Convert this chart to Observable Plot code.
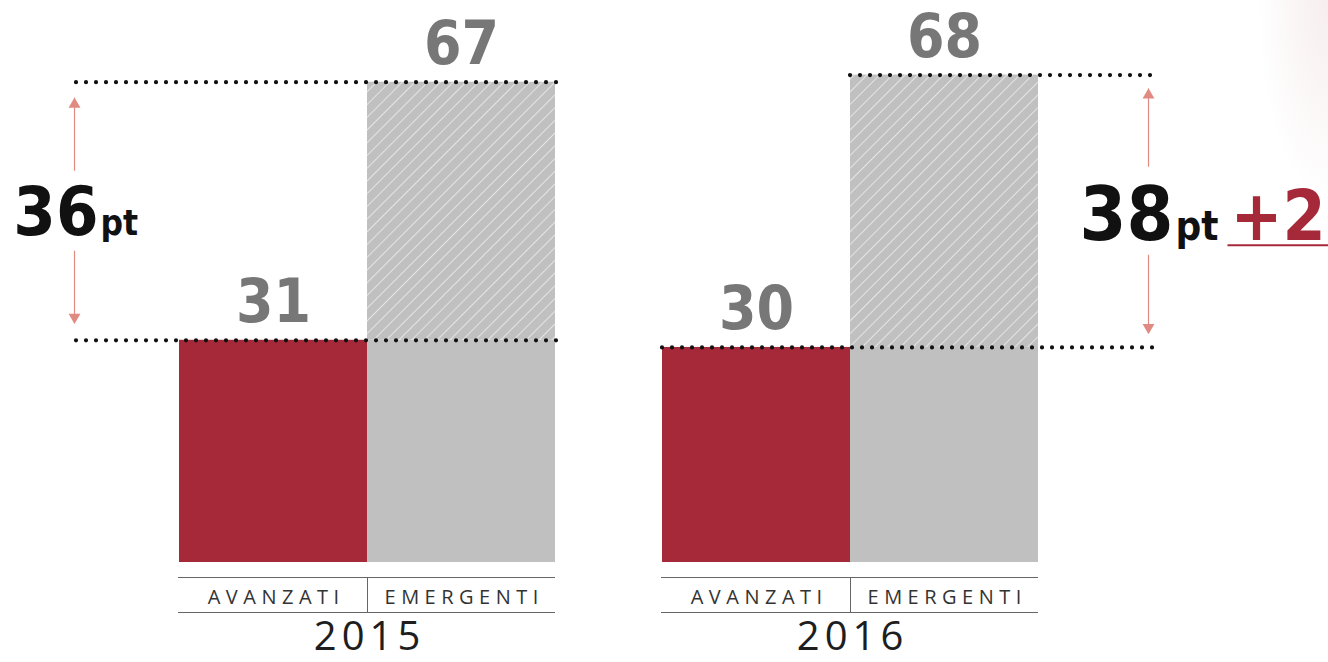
<!DOCTYPE html>
<html>
<head>
<meta charset="utf-8">
<script src="https://cdn.jsdelivr.net/npm/d3@7"></script>
<script src="https://cdn.jsdelivr.net/npm/@observablehq/plot@0.6"></script>
<style>
  html, body { margin: 0; padding: 0; }
  body {
    width: 1328px; height: 662px; overflow: hidden;
    background:
      radial-gradient(ellipse 70px 200px at 1328px 0px, rgba(236,216,218,0.45), rgba(255,255,255,0) 100%),
      #ffffff;
  }
  #chart svg { display: block; }
  .catlabel text { letter-spacing: 5.5px; }
  .yearlabel text { letter-spacing: 5px; }
</style>
</head>
<body>
<div id="chart"></div>
<script>
// ---- data ----
const years = ["2015", "2016"];
const categories = ["AVANZATI", "EMERGENTI"];
const avanzati = [31, 30];
const emergenti = [67, 68];

// ---- derived tables ----
const bars = years.flatMap((year, i) => [
  {year, cat: categories[0], value: avanzati[i]},
  {year, cat: categories[1], value: emergenti[i]}
]);
const gaps = years.map((year, i) => ({
  year,
  low: avanzati[i],
  high: emergenti[i],
  mid: (avanzati[i] + emergenti[i]) / 2,
  gap: emergenti[i] - avanzati[i]
}));
const g15 = gaps.filter(d => d.year === years[0]);
const g16 = gaps.filter(d => d.year === years[1]);
const change = g16[0].gap - g15[0].gap;
const changeLabel = (change > 0 ? "+" : "") + change;

const RED = "#a6293a";
const GRAY = "#c0c0c0";
const SALMON = "#e08a82";
const BIG = "'DejaVu Sans Condensed', 'DejaVu Sans', sans-serif";
const LIGHT = "'Open Sans', 'Roboto', sans-serif";

const dotted = {stroke: "#111", strokeWidth: 4.2, strokeDasharray: "0,10", strokeLinecap: "round"};

function build(bw) {
  const catE = () => categories[1];
  const catA = () => categories[0];
  return Plot.plot({
    width: 1328,
    height: 662,
    marginTop: 0,
    marginBottom: 100,
    marginLeft: 178,
    marginRight: 290,
    style: {background: "transparent", overflow: "visible"},
    fx: {domain: years, paddingInner: 0.2195, paddingOuter: 0, axis: null},
    x: {domain: categories, padding: 0, axis: null},
    y: {domain: [0, 78.4], axis: null},
    marks: [
      // bars
      Plot.barY(bars.filter(d => d.cat === categories[0]), {fx: "year", x: "cat", y: "value", fill: RED}),
      Plot.barY(gaps, {fx: "year", x: catE, y1: () => 0, y2: "low", fill: GRAY}),
      Plot.barY(gaps, {fx: "year", x: catE, y1: "low", y2: "high", fill: "url(#hatch)"}),

      // value labels
      Plot.text(bars, {fx: "year", x: "cat", y: "value", text: d => String(d.value),
        lineAnchor: "bottom", dy: -18, fontSize: 60, fontWeight: "bold", fill: "#777", fontFamily: BIG}),

      // dotted reference lines 2015
      Plot.ruleY(g15, {fx: "year", y: "high", x1: catA, x2: catE, insetLeft: -103, insetRight: -2, ...dotted}),
      Plot.ruleY(g15, {fx: "year", y: "low", x1: catA, x2: catE, insetLeft: -103, insetRight: -2, ...dotted}),
      // dotted reference lines 2016
      Plot.ruleY(g16, {fx: "year", y: "high", x1: catE, x2: catE, insetRight: -116, ...dotted}),
      Plot.ruleY(g16, {fx: "year", y: "low", x1: catA, x2: catE, insetRight: -116, ...dotted}),

      // arrows 2015
      Plot.ruleX(g15, {fx: "year", x: catA, dx: -199, y1: "high", y2: "mid", insetTop: 16, insetBottom: 40, stroke: SALMON, strokeWidth: 1.2}),
      Plot.ruleX(g15, {fx: "year", x: catA, dx: -199, y1: "mid", y2: "low", insetTop: 40, insetBottom: 17, stroke: SALMON, strokeWidth: 1.2}),
      Plot.dot(g15, {fx: "year", x: catA, dx: -199, y: "high", dy: 22, symbol: "triangle", r: 4.4, fill: SALMON, stroke: null}),
      Plot.dot(g15, {fx: "year", x: catA, dx: -199, y: "low", dy: -23, symbol: "triangle", rotate: 180, r: 4.4, fill: SALMON, stroke: null}),
      // arrows 2016
      Plot.ruleX(g16, {fx: "year", x: catE, dx: 204, y1: "high", y2: "mid", insetTop: 14, insetBottom: 44, stroke: SALMON, strokeWidth: 1.2}),
      Plot.ruleX(g16, {fx: "year", x: catE, dx: 204, y1: "mid", y2: "low", insetTop: 44, insetBottom: 14, stroke: SALMON, strokeWidth: 1.2}),
      Plot.dot(g16, {fx: "year", x: catE, dx: 204, y: "high", dy: 20, symbol: "triangle", r: 4.4, fill: SALMON, stroke: null}),
      Plot.dot(g16, {fx: "year", x: catE, dx: 204, y: "low", dy: -20, symbol: "triangle", rotate: 180, r: 4.4, fill: SALMON, stroke: null}),

      // gap annotations 2015
      Plot.text(g15, {fx: "year", x: catA, y: "mid", text: d => String(d.gap), textAnchor: "end", lineAnchor: "bottom",
        dx: -175, dy: 24, fontSize: 68, fontWeight: "bold", fill: "#111", fontFamily: BIG}),
      Plot.text(g15, {fx: "year", x: catA, y: "mid", text: () => "pt", textAnchor: "start", lineAnchor: "bottom",
        dx: -173, dy: 24, fontSize: 35, fontWeight: "bold", fill: "#111", fontFamily: BIG}),
      // gap annotations 2016
      Plot.text(g16, {fx: "year", x: catE, y: "mid", text: d => String(d.gap), textAnchor: "end", lineAnchor: "bottom",
        dx: 229, dy: 29, fontSize: 75, fontWeight: "bold", fill: "#111", fontFamily: BIG}),
      Plot.text(g16, {fx: "year", x: catE, y: "mid", text: () => "pt", textAnchor: "start", lineAnchor: "bottom",
        dx: 231, dy: 29, fontSize: 40, fontWeight: "bold", fill: "#111", fontFamily: BIG}),
      Plot.text(g16, {fx: "year", x: catE, y: "mid", text: () => changeLabel, textAnchor: "start", lineAnchor: "bottom",
        dx: 286, dy: 29, fontSize: 69, fontWeight: "bold", fill: RED, fontFamily: BIG}),
      Plot.ruleY(g16, {fx: "year", y: "mid", dy: 34, x1: catE, x2: catE, insetLeft: 377.5, insetRight: -290, stroke: RED, strokeWidth: 2}),

      // category axis box
      Plot.ruleY(years, {fx: d => d, y: () => 0, dy: 15, stroke: "#666", strokeWidth: 1}),
      Plot.ruleY(years, {fx: d => d, y: () => 0, dy: 50, stroke: "#666", strokeWidth: 1}),
      Plot.ruleX(years, {fx: d => d, x: catE, dx: -bw / 2, y1: () => 0, y2: () => 0, insetTop: 15, insetBottom: -50, stroke: "#666", strokeWidth: 1}),
      Plot.text(bars, {fx: "year", x: "cat", text: "cat", frameAnchor: "bottom", dy: 41, dx: 2.7,
        fontSize: 20, fill: "#333", fontFamily: LIGHT, className: "catlabel"}),
      Plot.text(years, {fx: d => d, text: d => d, frameAnchor: "bottom", dy: 87, dx: 2.5,
        fontSize: 40, fill: "#1e1e1e", fontFamily: LIGHT, className: "yearlabel"})
    ]
  });
}

let chart = build(0);
const bw = chart.scale("x").bandwidth;
chart = build(bw);

const svg = chart.tagName.toLowerCase() === "svg" ? chart : chart.querySelector("svg");
d3.select(svg).insert("defs", ":first-child").html(
  `<pattern id="hatch" patternUnits="userSpaceOnUse" width="9" height="9" patternTransform="rotate(45)">
     <rect width="9" height="9" fill="${GRAY}"></rect>
     <line x1="0" y1="0" x2="0" y2="9" stroke="#f4f4f4" stroke-width="1.4"></line>
   </pattern>`
);
document.getElementById("chart").appendChild(chart);
</script>
</body>
</html>
